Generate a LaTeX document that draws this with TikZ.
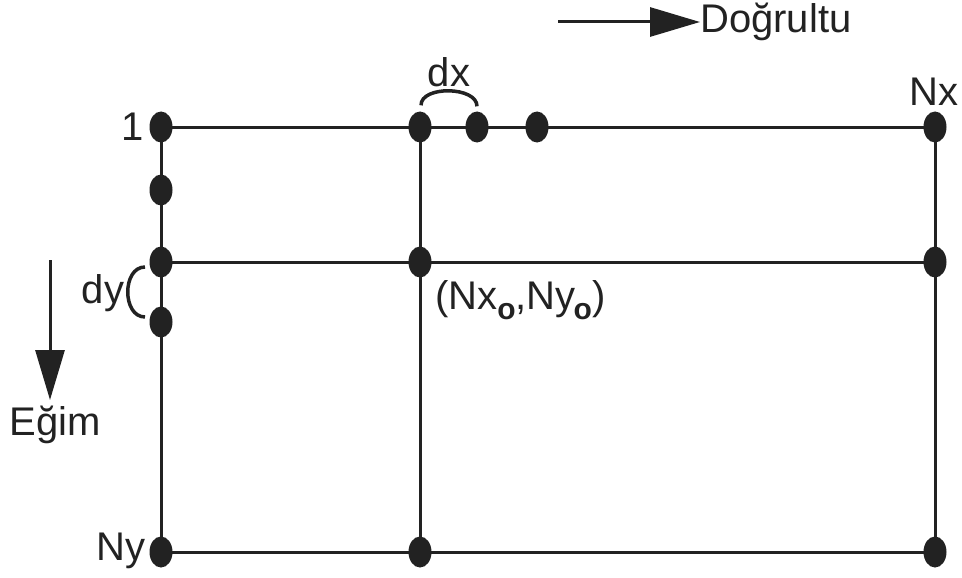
\documentclass[tikz,border=0pt]{standalone}
\usepackage{fontspec}
\setmainfont{Liberation Sans}
\usetikzlibrary{arrows.meta, positioning, shapes.geometric}

\definecolor{ink}{HTML}{222222}

\begin{document}
\begin{tikzpicture}[
    x=1pt, y=-1pt,
    dot/.style={ellipse, fill=ink, inner sep=0pt, minimum width=23pt, minimum height=31pt},
    grid/.style={draw=ink, line width=3pt},
    lbl/.style={text=ink, inner sep=0pt, font=\fontsize{40}{46}\selectfont},
    bracket/.style={draw=ink, line width=3.5pt},
    arrow/.style={draw=ink, line width=3pt, -{Triangle[length=50pt, width=29pt]}}
]
    \useasboundingbox (0,0) rectangle (962,578);

    % grid lines
    \coordinate (tl) at (161,127);
    \coordinate (tm) at (420,127);
    \coordinate (tr) at (935,127);
    \coordinate (ml) at (161,262);
    \coordinate (mm) at (420,262);
    \coordinate (mr) at (935,262);
    \coordinate (bl) at (161,552);
    \coordinate (bm) at (420,552);
    \coordinate (br) at (935,552);

    \draw[grid] (tl) -- (tr);
    \draw[grid] (ml) -- (mr);
    \draw[grid] (bl) -- (br);
    \draw[grid] (tl) -- (bl);
    \draw[grid] (tm) -- (bm);
    \draw[grid] (tr) -- (br);

    % points
    \node[dot] (p11)  at (tl) {};
    \node[dot] (p12)  at (161,190) {};
    \node[dot] (p21)  at (ml) {};
    \node[dot] (p22)  at (161,322) {};
    \node[dot] (pny)  at (bl) {};
    \node[dot] (pc1)  at (tm) {};
    \node[dot] (pc2)  at (477,127) {};
    \node[dot] (pc3)  at (537,127) {};
    \node[dot] (pnx)  at (tr) {};
    \node[dot] (po)   at (mm) {};
    \node[dot] (pmr)  at (mr) {};
    \node[dot] (pbm)  at (bm) {};
    \node[dot] (pbr)  at (br) {};

    % labels
    \node[lbl] (one)  at (133,127) {1};
    \node[lbl] (nx)   at (934,92)  {Nx};
    \node[lbl] (ny)   at (121,551) {Ny};
    \node[lbl, anchor=west] (origin) at (435,300)
        {(Nx\raisebox{-0.45ex}{\fontsize{30}{32}\selectfont\bfseries o},Ny\kern-2pt\raisebox{-0.45ex}{\fontsize{30}{32}\selectfont\bfseries o})};

    % dx and dy
    \node[lbl] (dx) at (449,72) {dx};
    \draw[bracket] ([xshift=1pt, yshift=6pt]pc1.north) .. controls +(0,-20) and +(0,-20) .. ([yshift=5pt]pc2.north);
    \node[lbl] (dy) at (103,293) {dy};
    \draw[bracket] (145,267) .. controls +(-23,0) and +(-23,0) .. (145,317);

    % directions
    \node[lbl, anchor=west] (dogrultu) at (700,22) {Doğrultu};
    \coordinate (dstart) at (558,22);
    \draw[arrow] (dstart) -- (dogrultu.west);

    \node[lbl] (egim) at (55,425) {Eğim};
    \coordinate (estart) at (50,260);
    \coordinate (eend) at (50,400);
    \draw[arrow] (estart) -- (eend);
\end{tikzpicture}
\end{document}
